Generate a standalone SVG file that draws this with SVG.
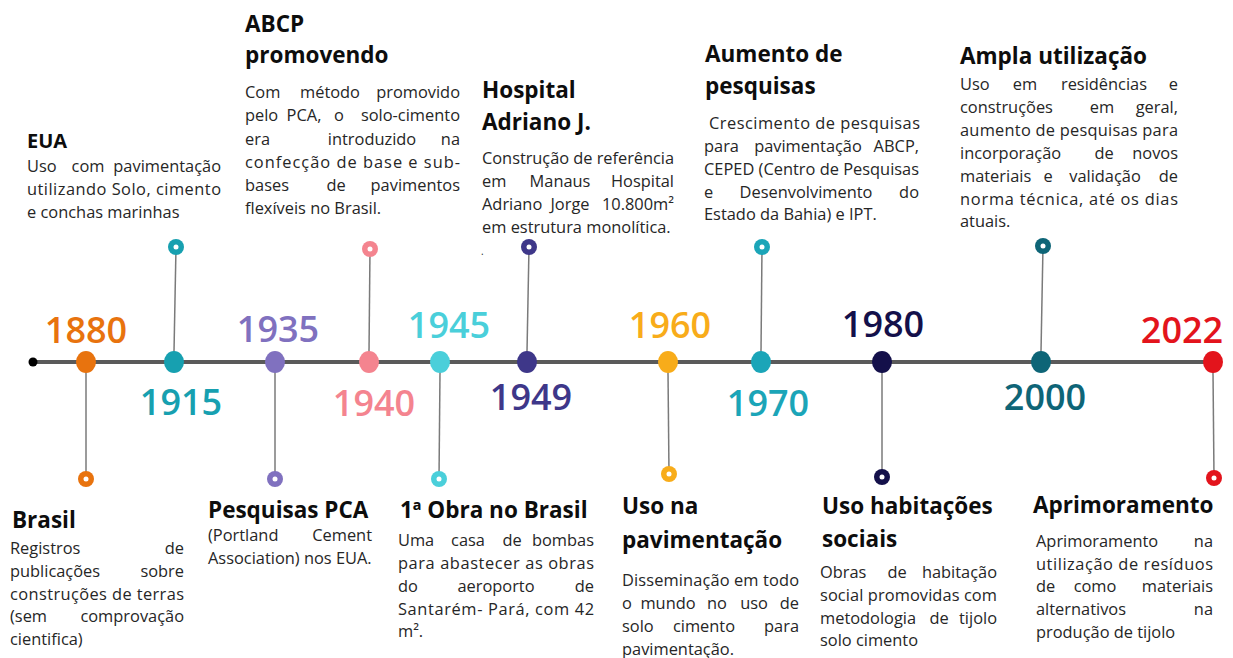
<svg xmlns="http://www.w3.org/2000/svg" width="1233" height="658" viewBox="0 0 1233 658">
<style>
.h{font-family:"Open Sans","Noto Sans",sans-serif;font-weight:700;font-size:22.5px;fill:#0d0d0d}
.b{font-family:"Open Sans","Noto Sans",sans-serif;font-size:16.4px;fill:#262626}
.e{text-anchor:end}
.m{text-anchor:middle}
.y{font-family:"Open Sans","Noto Sans",sans-serif;font-weight:600;font-size:36px;text-anchor:middle}
.stem{stroke:#7a7a7a;stroke-width:1.5;fill:none}
.axis{stroke:#5a5a5a;stroke-width:4}
.hole{fill:#fff}
</style>
<rect width="1233" height="658" fill="#fff"/>
<g id="connectors">
<line class="axis" x1="33" y1="362" x2="1213" y2="362"/>
<line class="stem" x1="86" y1="372" x2="86" y2="479"/>
<line class="stem" x1="174" y1="352" x2="176" y2="247"/>
<line class="stem" x1="275" y1="372" x2="275" y2="479"/>
<line class="stem" x1="369" y1="352" x2="370" y2="249"/>
<line class="stem" x1="440" y1="372" x2="439" y2="479"/>
<line class="stem" x1="527" y1="352" x2="529" y2="247"/>
<line class="stem" x1="668" y1="372" x2="669" y2="474"/>
<line class="stem" x1="761" y1="352" x2="762" y2="247"/>
<line class="stem" x1="882" y1="372" x2="882" y2="477"/>
<line class="stem" x1="1041" y1="352" x2="1043" y2="246"/>
<line class="stem" x1="1213" y1="372" x2="1214" y2="478"/>
</g>
<g id="start"><circle cx="33" cy="362" r="4.5" fill="#000"/></g>

<g id="e1880">
<ellipse cx="86" cy="362" rx="10" ry="11" fill="#E8730E"/>
<circle cx="86" cy="479" r="8" fill="#E8730E"/><circle class="hole" cx="86" cy="479" r="2.5"/>
<text class="y" x="86" y="343" fill="#E8730E">1880</text>
<text class="h" x="12" y="528">Brasil</text>
<text class="b" x="10" y="554">Registros</text><text class="b e" x="184" y="554">de</text>
<text class="b" x="10" y="577">publicações</text><text class="b e" x="184" y="577">sobre</text>
<text class="b" x="10" y="600" textLength="174" lengthAdjust="spacing">construções de terras</text>
<text class="b" x="10" y="622">(sem</text><text class="b e" x="184" y="622">comprovação</text>
<text class="b" x="10" y="645">cientifica)</text>
</g>

<g id="e1915">
<ellipse cx="174" cy="362" rx="10" ry="11" fill="#17A0B0"/>
<circle cx="176" cy="247" r="8" fill="#17A0B0"/><circle class="hole" cx="176" cy="247" r="2.5"/>
<text class="y" x="181" y="415" fill="#17A0B0">1915</text>
<text class="h" x="27" y="148" style="font-size:20px">EUA</text>
<text class="b" x="27" y="172">Uso</text><text class="b m" x="88" y="172">com</text><text class="b e" x="221" y="172">pavimentação</text>
<text class="b" x="27" y="195" textLength="194" lengthAdjust="spacing">utilizando Solo, cimento</text>
<text class="b" x="27" y="218">e conchas marinhas</text>
</g>

<g id="e1935">
<ellipse cx="275" cy="362" rx="10" ry="11" fill="#8071BF"/>
<circle cx="275" cy="479" r="8" fill="#8071BF"/><circle class="hole" cx="275" cy="479" r="2.5"/>
<text class="y" x="278" y="342" fill="#8071BF">1935</text>
<text class="h" x="208" y="518">Pesquisas PCA</text>
<text class="b" x="208" y="541">(Portland</text><text class="b e" x="372" y="541">Cement</text>
<text class="b" x="208" y="564">Association) nos EUA.</text>
</g>

<g id="e1940">
<ellipse cx="369" cy="362" rx="10" ry="11" fill="#F4848F"/>
<circle cx="370" cy="249" r="8" fill="#F4848F"/><circle class="hole" cx="370" cy="249" r="2.5"/>
<text class="y" x="374" y="416" fill="#F4848F">1940</text>
<text class="h" x="245" y="32">ABCP</text>
<text class="h" x="245" y="63">promovendo</text>
<text class="b" x="245" y="98">Com</text><text class="b m" x="330" y="98">método</text><text class="b e" x="460" y="98">promovido</text>
<text class="b" x="245" y="121">pelo</text><text class="b m" x="304" y="121">PCA,</text><text class="b m" x="339" y="121">o</text><text class="b e" x="460" y="121">solo-cimento</text>
<text class="b" x="245" y="145">era</text><text class="b m" x="372" y="145">introduzido</text><text class="b e" x="460" y="145">na</text>
<text class="b" x="245" y="168" textLength="215" lengthAdjust="spacing">confecção de base e sub-</text>
<text class="b" x="245" y="191">bases</text><text class="b m" x="336" y="191">de</text><text class="b e" x="460" y="191">pavimentos</text>
<text class="b" x="245" y="214">flexíveis no Brasil.</text>
</g>

<g id="e1945">
<ellipse cx="440" cy="362" rx="10" ry="11" fill="#4ACFDA"/>
<circle cx="439" cy="479" r="8" fill="#4ACFDA"/><circle class="hole" cx="439" cy="479" r="2.5"/>
<text class="y" x="449" y="338" fill="#4ACFDA">1945</text>
<text class="h" x="400" y="518">1ª Obra no Brasil</text>
<text class="b" x="398" y="546">Uma</text><text class="b m" x="468" y="546">casa</text><text class="b m" x="512" y="546">de</text><text class="b e" x="594" y="546">bombas</text>
<text class="b" x="398" y="569" textLength="196" lengthAdjust="spacing">para abastecer as obras</text>
<text class="b" x="398" y="592">do</text><text class="b m" x="496" y="592">aeroporto</text><text class="b e" x="594" y="592">de</text>
<text class="b" x="398" y="615" textLength="196" lengthAdjust="spacing">Santarém- Pará, com 42</text>
<text class="b" x="398" y="637">m².</text>
</g>

<g id="e1949">
<ellipse cx="527" cy="362" rx="10" ry="11" fill="#3E3789"/>
<circle cx="529" cy="247" r="8" fill="#3E3789"/><circle class="hole" cx="529" cy="247" r="2.5"/>
<text class="y" x="531" y="410" fill="#3E3789">1949</text>
<text class="h" x="482" y="98">Hospital</text>
<text class="h" x="482" y="130">Adriano J.</text>
<text class="b" x="482" y="164" textLength="192" lengthAdjust="spacing">Construção de referência</text>
<text class="b" x="482" y="187">em</text><text class="b m" x="560" y="187">Manaus</text><text class="b e" x="674" y="187">Hospital</text>
<text class="b" x="482" y="210">Adriano</text><text class="b m" x="570" y="210">Jorge</text><text class="b e" x="674" y="210">10.800m²</text>
<text class="b" x="482" y="233">em estrutura monolítica.</text>
<text class="b" x="481" y="255" style="font-size:10px">.</text>
</g>

<g id="e1960">
<ellipse cx="668" cy="362" rx="10" ry="11" fill="#F8AC1A"/>
<circle cx="669" cy="474" r="8" fill="#F8AC1A"/><circle class="hole" cx="669" cy="474" r="2.5"/>
<text class="y" x="670" y="338" fill="#F8AC1A">1960</text>
<text class="h" x="622" y="514">Uso na</text>
<text class="h" x="622" y="548">pavimentação</text>
<text class="b" x="622" y="586" textLength="177" lengthAdjust="spacing">Disseminação em todo</text>
<text class="b" x="622" y="609">o</text><text class="b m" x="668" y="609">mundo</text><text class="b m" x="717" y="609">no</text><text class="b m" x="754" y="609">uso</text><text class="b e" x="799" y="609">de</text>
<text class="b" x="622" y="632">solo</text><text class="b m" x="704" y="632">cimento</text><text class="b e" x="799" y="632">para</text>
<text class="b" x="622" y="655">pavimentação.</text>
</g>

<g id="e1970">
<ellipse cx="761" cy="362" rx="10" ry="11" fill="#1BA5B8"/>
<circle cx="762" cy="247" r="8" fill="#1BA5B8"/><circle class="hole" cx="762" cy="247" r="2.5"/>
<text class="y" x="768" y="416" fill="#1BA5B8">1970</text>
<text class="h" x="705" y="62">Aumento de</text>
<text class="h" x="705" y="94">pesquisas</text>
<text class="b" x="709" y="129" textLength="211" lengthAdjust="spacing">Crescimento de pesquisas</text>
<text class="b" x="704" y="152">para</text><text class="b m" x="808" y="152">pavimentação</text><text class="b e" x="919" y="152">ABCP,</text>
<text class="b" x="704" y="175" textLength="215" lengthAdjust="spacing">CEPED (Centro de Pesquisas</text>
<text class="b" x="704" y="198">e</text><text class="b m" x="806" y="198">Desenvolvimento</text><text class="b e" x="919" y="198">do</text>
<text class="b" x="704" y="220">Estado da Bahia) e IPT.</text>
</g>

<g id="e1980">
<ellipse cx="882" cy="362" rx="10" ry="11" fill="#14104A"/>
<circle cx="882" cy="477" r="8" fill="#14104A"/><circle class="hole" cx="882" cy="477" r="2.5"/>
<text class="y" x="883" y="337" fill="#14104A">1980</text>
<text class="h" x="822" y="514">Uso habitações</text>
<text class="h" x="822" y="547">sociais</text>
<text class="b" x="820" y="578">Obras</text><text class="b m" x="897" y="578">de</text><text class="b e" x="997" y="578">habitação</text>
<text class="b" x="820" y="601" textLength="177" lengthAdjust="spacing">social promovidas com</text>
<text class="b" x="820" y="624">metodologia</text><text class="b m" x="939" y="624">de</text><text class="b e" x="997" y="624">tijolo</text>
<text class="b" x="820" y="646">solo cimento</text>
</g>

<g id="e2000">
<ellipse cx="1041" cy="362" rx="10" ry="11" fill="#0E6577"/>
<circle cx="1043" cy="246" r="8" fill="#0E6577"/><circle class="hole" cx="1043" cy="246" r="2.5"/>
<text class="y" x="1045" y="410" fill="#0E6577">2000</text>
<text class="h" x="960" y="64">Ampla utilização</text>
<text class="b" x="960" y="90">Uso</text><text class="b m" x="1025" y="90">em</text><text class="b m" x="1104" y="90">residências</text><text class="b e" x="1178" y="90">e</text>
<text class="b" x="960" y="113">construções</text><text class="b m" x="1102" y="113">em</text><text class="b e" x="1178" y="113">geral,</text>
<text class="b" x="960" y="136" textLength="218" lengthAdjust="spacing">aumento de pesquisas para</text>
<text class="b" x="960" y="159">incorporação</text><text class="b m" x="1104" y="159">de</text><text class="b e" x="1178" y="159">novos</text>
<text class="b" x="960" y="182">materiais</text><text class="b m" x="1048" y="182">e</text><text class="b m" x="1105" y="182">validação</text><text class="b e" x="1178" y="182">de</text>
<text class="b" x="960" y="205" textLength="218" lengthAdjust="spacing">norma técnica, até os dias</text>
<text class="b" x="960" y="227">atuais.</text>
</g>

<g id="e2022">
<ellipse cx="1213" cy="362" rx="10" ry="11" fill="#E3141C"/>
<circle cx="1214" cy="478" r="8" fill="#E3141C"/><circle class="hole" cx="1214" cy="478" r="2.5"/>
<text class="y" x="1182" y="343" fill="#E3141C">2022</text>
<text class="h" x="1033" y="513">Aprimoramento</text>
<text class="b" x="1036" y="547">Aprimoramento</text><text class="b e" x="1213" y="547">na</text>
<text class="b" x="1036" y="570" textLength="177" lengthAdjust="spacing">utilização de resíduos</text>
<text class="b" x="1036" y="592">de</text><text class="b m" x="1095" y="592">como</text><text class="b e" x="1213" y="592">materiais</text>
<text class="b" x="1036" y="615">alternativos</text><text class="b e" x="1213" y="615">na</text>
<text class="b" x="1036" y="638">produção de tijolo</text>
</g>
</svg>
